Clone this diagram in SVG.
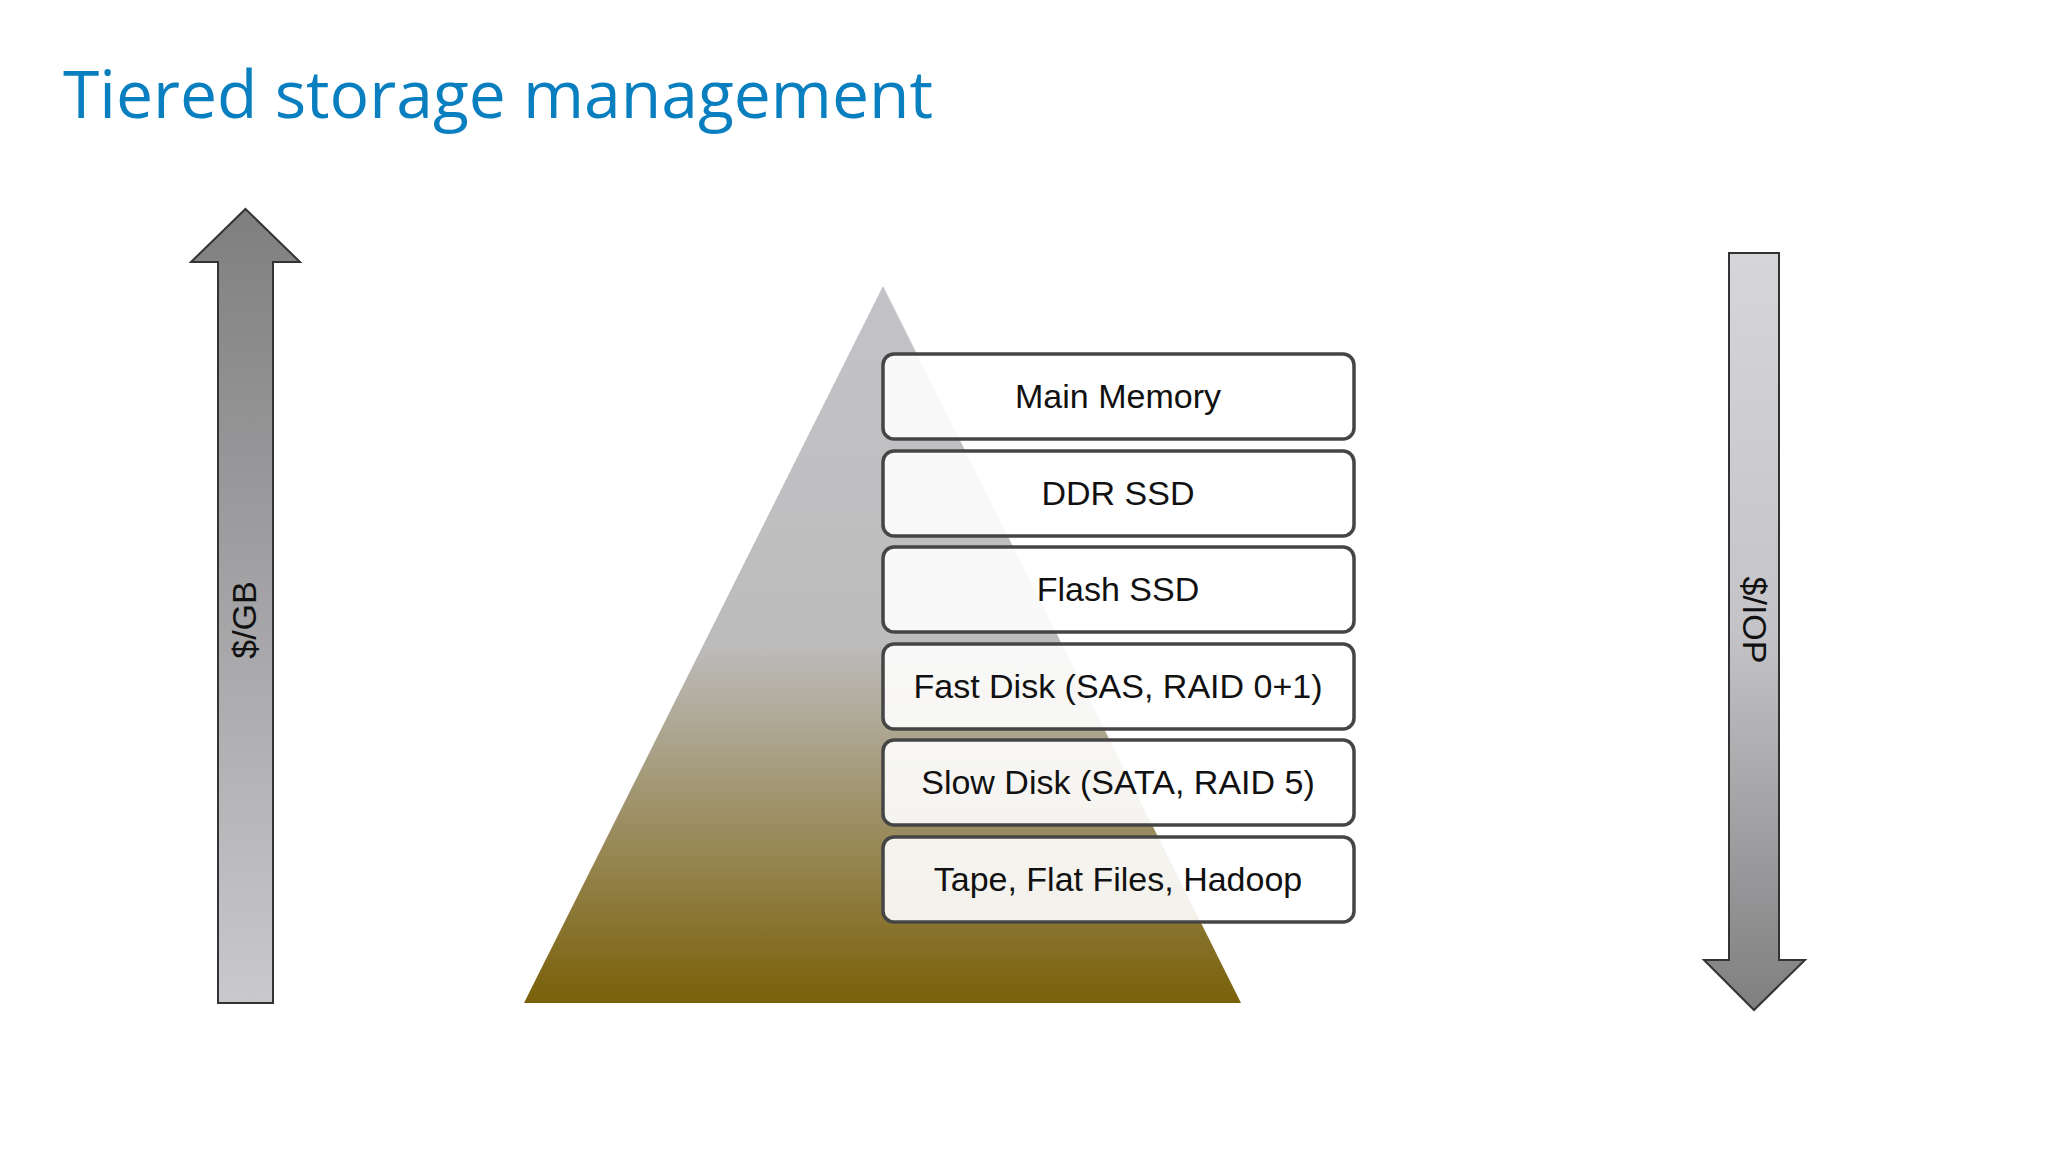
<svg xmlns="http://www.w3.org/2000/svg" width="2048" height="1152" viewBox="0 0 2048 1152">
<defs>
<linearGradient id="up" x1="0" y1="0" x2="0" y2="1"><stop offset="0" stop-color="#7f7f80"/><stop offset="1" stop-color="#c9c9cd"/></linearGradient>
<linearGradient id="down" x1="0" y1="0" x2="0" y2="1"><stop offset="0" stop-color="#d6d6da"/><stop offset="0.5" stop-color="#c4c4c8"/><stop offset="1" stop-color="#7f7f80"/></linearGradient>
<linearGradient id="pyr" x1="0" y1="0" x2="0" y2="1"><stop offset="0" stop-color="#c3c2c7"/><stop offset="0.5" stop-color="#bdbcbc"/><stop offset="1" stop-color="#7a6008"/></linearGradient>
<style>
.box{fill:#fff;fill-opacity:0.9;stroke:#454545;stroke-width:3.5}
.t{font-family:"Liberation Sans",Arial,sans-serif;font-size:34px;fill:#111;text-anchor:middle}
.ar{stroke:#333;stroke-width:2}
</style>
</defs>
<rect width="2048" height="1152" fill="#fff"/>
<text x="63" y="118" font-family="'Open Sans','Noto Sans',sans-serif" font-size="66" fill="#0a7fc0">Tiered storage management</text>
<g id="left-arrow">
<polygon class="ar" fill="url(#up)" points="245.5,209 300,262 273,262 273,1003 218,1003 218,262 191,262"/>
<text class="t" font-size="31" transform="translate(256,620) rotate(-90)">$/GB</text>
</g>
<g id="right-arrow">
<polygon class="ar" fill="url(#down)" points="1729,253 1779,253 1779,960 1805,960 1754,1010 1704,960 1729,960"/>
<text class="t" font-size="31" transform="translate(1743,620) rotate(90)">$/IOP</text>
</g>
<g id="pyramid"><polygon fill="url(#pyr)" points="883,286 1241,1003 524,1003"/></g>
<g id="n1"><rect class="box" x="883" y="354" width="471" height="85" rx="11"/><text class="t" x="1118" y="408">Main Memory</text></g>
<g id="n2"><rect class="box" x="883" y="451" width="471" height="85" rx="11"/><text class="t" x="1118" y="505">DDR SSD</text></g>
<g id="n3"><rect class="box" x="883" y="547" width="471" height="85" rx="11"/><text class="t" x="1118" y="601">Flash SSD</text></g>
<g id="n4"><rect class="box" x="883" y="644" width="471" height="85" rx="11"/><text class="t" x="1118" y="698">Fast Disk (SAS, RAID 0+1)</text></g>
<g id="n5"><rect class="box" x="883" y="740" width="471" height="85" rx="11"/><text class="t" x="1118" y="794">Slow Disk (SATA, RAID 5)</text></g>
<g id="n6"><rect class="box" x="883" y="837" width="471" height="85" rx="11"/><text class="t" x="1118" y="891">Tape, Flat Files, Hadoop</text></g>
<g id="connectors"/>
</svg>
